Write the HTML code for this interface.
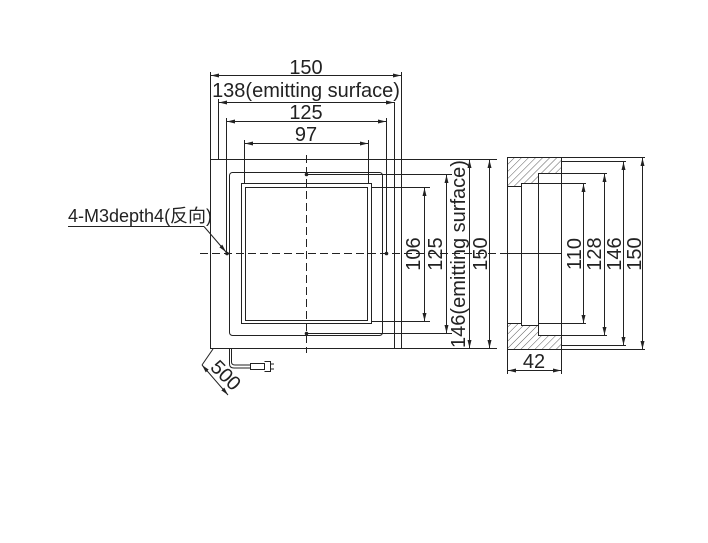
<!DOCTYPE html>
<html><head><style>body{margin:0;background:#fff}svg{display:block}</style></head><body>
<svg width="708" height="543" viewBox="0 0 708 543" xmlns="http://www.w3.org/2000/svg" font-family="Liberation Sans, Noto Sans CJK SC, sans-serif" fill="none" stroke="#222" stroke-width="1">
<defs>
<marker id="a" viewBox="0 0 8 4" refX="8" refY="2" markerWidth="8" markerHeight="4" orient="auto-start-reverse"><path d="M0,0L8,2L0,4z" fill="#222" stroke="none"/></marker>
<pattern id="h" patternUnits="userSpaceOnUse" width="5" height="5" patternTransform="rotate(45)"><line x1="0" y1="0" x2="0" y2="5" stroke="#333" stroke-width="0.8"/></pattern>
</defs>
<rect x="210.5" y="159.5" width="191" height="189"/>
<line x1="394.5" y1="102" x2="394.5" y2="348"/>
<line x1="210.5" y1="72" x2="210.5" y2="159"/>
<line x1="401.5" y1="72" x2="401.5" y2="159"/>
<line x1="218.5" y1="99" x2="218.5" y2="159"/>
<line x1="401" y1="159.5" x2="497" y2="159.5"/>
<line x1="401" y1="348.5" x2="497" y2="348.5"/>
<rect x="229.5" y="172.5" width="153" height="163" rx="3"/>
<rect x="241.5" y="183.5" width="130" height="140"/>
<rect x="245.5" y="187.5" width="122" height="133"/>
<line x1="226.5" y1="118" x2="226.5" y2="253"/>
<line x1="386.5" y1="118" x2="386.5" y2="253"/>
<line x1="244.5" y1="140" x2="244.5" y2="184"/>
<line x1="368.5" y1="140" x2="368.5" y2="184"/>
<line x1="372" y1="187.5" x2="430" y2="187.5"/>
<line x1="372" y1="321.5" x2="430" y2="321.5"/>
<line x1="306" y1="174.5" x2="452" y2="174.5"/>
<line x1="306" y1="333.5" x2="452" y2="333.5"/>
<line x1="306.5" y1="155" x2="306.5" y2="353" stroke-dasharray="8,4"/>
<line x1="200" y1="253.5" x2="500" y2="253.5" stroke-dasharray="8,4"/>
<g fill="#222" stroke="none"><circle cx="306.5" cy="174.5" r="1.8"/><circle cx="306.5" cy="333.5" r="1.8"/><circle cx="227" cy="253.5" r="1.8"/><circle cx="386.5" cy="253.5" r="1.8"/></g>
<line x1="211" y1="75.5" x2="401" y2="75.5" marker-start="url(#a)" marker-end="url(#a)"/>
<line x1="219" y1="102.5" x2="394" y2="102.5" marker-start="url(#a)" marker-end="url(#a)"/>
<line x1="227" y1="121.5" x2="386" y2="121.5" marker-start="url(#a)" marker-end="url(#a)"/>
<line x1="245" y1="143.5" x2="368" y2="143.5" marker-start="url(#a)" marker-end="url(#a)"/>
<g fill="#222" stroke="none" font-size="20" text-anchor="middle">
<text x="306" y="74">150</text>
<text x="306" y="97">138(emitting surface)</text>
<text x="306" y="119">125</text>
<text x="306" y="141">97</text>
</g>
<line x1="424.5" y1="188" x2="424.5" y2="321" marker-start="url(#a)" marker-end="url(#a)"/>
<line x1="446.5" y1="175" x2="446.5" y2="333" marker-start="url(#a)" marker-end="url(#a)"/>
<line x1="469.5" y1="160" x2="469.5" y2="348" marker-start="url(#a)" marker-end="url(#a)"/>
<line x1="489.5" y1="160" x2="489.5" y2="348" marker-start="url(#a)" marker-end="url(#a)"/>
<g fill="#222" stroke="none" font-size="20" text-anchor="middle">
<text transform="translate(420,254) rotate(-90)">106</text>
<text transform="translate(442,254) rotate(-90)">125</text>
<text transform="translate(465,254) rotate(-90)">146(emitting surface)</text>
<text transform="translate(487,254) rotate(-90)">150</text>
</g>
<line x1="68" y1="226.5" x2="204" y2="226.5"/>
<line x1="204" y1="226.5" x2="226" y2="252" marker-end="url(#a)"/>
<text x="68" y="222" fill="#222" stroke="none" font-size="18">4-M3depth4(反向)</text>
<path d="M229.5,348 V364 Q229.5,368 234,368 H250 M231.5,348 V362 Q231.5,365 235,365 H250"/>
<rect x="250.5" y="363.5" width="14" height="6"/>
<path d="M264.5,361.5 h6 v10 h-6 M270,364 h4 M270,369 h4"/>
<line x1="213" y1="349" x2="202" y2="365"/>
<line x1="202" y1="365" x2="228" y2="395" marker-start="url(#a)" marker-end="url(#a)"/>
<text transform="translate(221,380) rotate(45)" fill="#222" stroke="none" font-size="20" text-anchor="middle">500</text>
<path d="M507.5,157.5 H561.5 V173.5 H538.5 V183.5 H521.5 V186.5 H507.5 Z" fill="url(#h)"/>
<path d="M507.5,349.5 H561.5 V335.5 H538.5 V325.5 H521.5 V323.5 H507.5 Z" fill="url(#h)"/>
<rect x="507.5" y="157.5" width="54" height="192"/>
<line x1="521.5" y1="186" x2="521.5" y2="324"/>
<line x1="538.5" y1="173" x2="538.5" y2="336"/>
<line x1="500" y1="253.5" x2="561" y2="253.5"/>
<line x1="538" y1="183.5" x2="586" y2="183.5"/>
<line x1="538" y1="323.5" x2="586" y2="323.5"/>
<line x1="561" y1="173.5" x2="607" y2="173.5"/>
<line x1="561" y1="335.5" x2="607" y2="335.5"/>
<line x1="561" y1="161.5" x2="626" y2="161.5"/>
<line x1="561" y1="345.5" x2="626" y2="345.5"/>
<line x1="561" y1="157.5" x2="645" y2="157.5"/>
<line x1="561" y1="349.5" x2="645" y2="349.5"/>
<line x1="583.5" y1="184" x2="583.5" y2="323" marker-start="url(#a)" marker-end="url(#a)"/>
<line x1="604.5" y1="174" x2="604.5" y2="335" marker-start="url(#a)" marker-end="url(#a)"/>
<line x1="623.5" y1="162" x2="623.5" y2="345" marker-start="url(#a)" marker-end="url(#a)"/>
<line x1="642.5" y1="158" x2="642.5" y2="349" marker-start="url(#a)" marker-end="url(#a)"/>
<line x1="507.5" y1="349" x2="507.5" y2="374"/>
<line x1="561.5" y1="349" x2="561.5" y2="374"/>
<line x1="508" y1="370.5" x2="561" y2="370.5" marker-start="url(#a)" marker-end="url(#a)"/>
<g fill="#222" stroke="none" font-size="20" text-anchor="middle">
<text transform="translate(581,254) rotate(-90)">110</text>
<text transform="translate(601,254) rotate(-90)">128</text>
<text transform="translate(621,254) rotate(-90)">146</text>
<text transform="translate(641,254) rotate(-90)">150</text>
<text x="534" y="368">42</text>
</g>
</svg>
</body></html>
